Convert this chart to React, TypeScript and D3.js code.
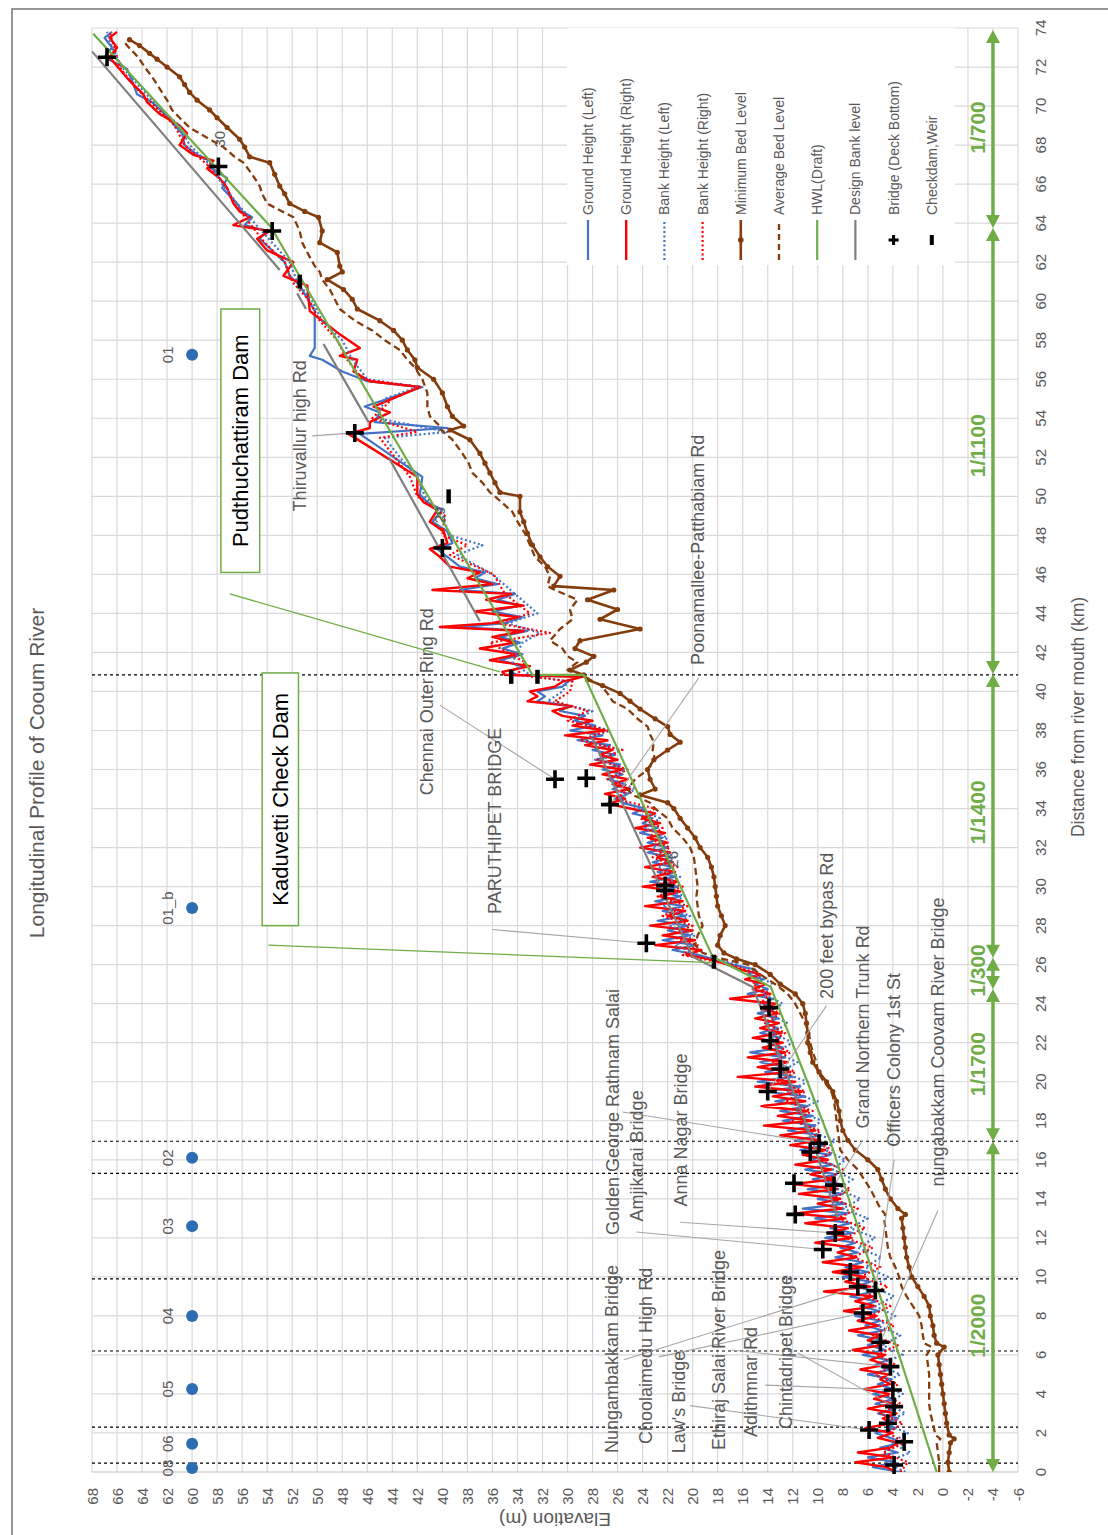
import React from 'react';
import * as d3 from 'd3';

// ---------------- data ----------------
const distTicks = [0,2,4,6,8,10,12,14,16,18,20,22,24,26,28,30,32,34,36,38,40,42,44,46,48,50,52,54,56,58,60,62,64,66,68,70,72,74];
const elevTicks = [-6,-4,-2,0,2,4,6,8,10,12,14,16,18,20,22,24,26,28,30,32,34,36,38,40,42,44,46,48,50,52,54,56,58,60,62,64,66,68];

const groundKm = [0,0.25,0.5,0.75,1,1.25,1.5,1.75,2,2.25,2.5,2.75,3,3.25,3.5,3.75,4,4.25,4.5,4.75,5,5.25,5.5,5.75,6,6.25,6.5,6.75,7,7.25,7.5,7.75,8,8.25,8.5,8.75,9,9.25,9.5,9.75,10,10.25,10.5,10.75,11,11.25,11.5,11.75,12,12.25,12.5,12.75,13,13.25,13.5,13.75,14,14.25,14.5,14.75,15,15.25,15.5,15.75,16,16.25,16.5,16.75,17,17.25,17.5,17.75,18,18.25,18.5,18.75,19,19.25,19.5,19.75,20,20.25,20.5,20.75,21,21.25,21.5,21.75,22,22.25,22.5,22.75,23,23.25,23.5,23.75,24,24.25,24.5,24.75,25,25.25,25.5,25.75,26,26.25,26.5,26.75,27,27.25,27.5,27.75,28,28.25,28.5,28.75,29,29.25,29.5,29.75,30,30.25,30.5,30.75,31,31.25,31.5,31.75,32,32.25,32.5,32.75,33,33.25,33.5,33.75,34,34.25,34.5,34.75,35,35.25,35.5,35.75,36,36.25,36.5,36.75,37,37.25,37.5,37.75,38,38.25,38.5,38.75,39,39.25,39.5,39.75,40,40.25,40.5,40.75,
  40.85,41.0,41.3,41.6,41.9,42.2,42.5,42.8,43.1,43.3,43.5,43.8,44.1,44.4,44.7,45.0,45.2,45.5,45.8,46.1,46.4,46.9,47.3,47.6,48.2,48.7,49.3,49.7,50.1,51.0,53.2,53.5,53.8,54.3,54.6,55.6,55.9,56.4,57.0,57.2,57.6,58.3,59.5,60.8,61.3,62.0,62.6,63.2,63.6,63.9,64.3,64.6,65.0,65.8,66.3,66.8,67.2,67.5,68.0,68.6,69.0,69.6,70.2,70.6,71.3,71.9,72.5,73.0,73.5,73.8];

const groundRight = [3.8,4.5,7.0,3.9,6.8,4.2,3.6,5.2,4.0,6.2,
  4.1,4.8,3.7,6.0,4.0,5.5,4.3,6.3,4.2,5.0,
  4.4,6.6,4.5,5.8,4.6,7.2,4.9,6.0,5.0,7.5,
  5.1,6.8,5.3,7.9,5.4,7.0,5.6,9.5,5.8,7.8,
  6.2,8.8,6.4,9.6,6.9,8.4,7.1,10.2,7.3,9.1,
  7.6,11.0,7.8,11.8,8.0,10.0,8.2,11.5,8.4,12.0,
  8.7,10.6,8.9,11.8,9.2,11.2,9.4,12.2,9.8,13.0,
  10.2,14.3,10.5,13.2,10.8,14.5,11.0,13.6,11.3,15.0,
  11.8,16.4,12.2,14.8,12.4,15.6,12.6,14.4,12.8,15.2,
  12.9,14.6,13.1,15.0,13.2,14.4,13.4,17.0,13.8,15.2,
  14.2,15.8,14.6,16.2,17.2,
  18.4,20.5,19.3,23.0,19.8,22.4,20.0,23.4,20.4,22.0,
  20.6,23.8,20.8,22.6,21.0,24.0,21.2,23.2,21.4,23.8,
  21.6,22.8,21.8,24.2,22.0,23.5,22.2,24.6,22.6,24.0,
  23.0,25.0,26.8,25.4,27.0,25.0,26.4,25.2,27.2,25.6,
  28.2,26.0,27.4,26.4,28.6,26.8,30.2,27.0,29.6,28.0,
  30.4,31.2,29.6,33.2,32.4,33.0,31.0,30.4,28.8,
  35.0,35.2,33.0,36.2,34.0,37.0,34.2,36.0,33.5,40.2,36.0,34.0,37.4,33.5,36.5,34.5,40.8,36.0,38.0,37.0,
  39.4,40.2,41.0,39.6,39.9,41.0,40.4,41.5,42.0,42.0,47.5,45.8,45.8,44.2,45.5,41.8,45.8,47.1,46.8,48.2,
  46.6,48.2,50.6,50.8,52.7,51.9,54.0,54.8,53.8,56.7,55.4,56.2,56.7,57.2,57.8,58.8,58.3,59.9,61.0,60.4,
  61.0,62.6,63.6,63.9,65.0,65.8,66.6,66.0,66.6,66.0];

const groundLeft = [3.4,5.6,3.8,6.0,3.6,5.0,3.3,4.2,5.4,3.8,
  4.6,3.6,5.2,3.8,5.4,3.9,5.6,4.0,5.2,4.1,
  6.0,4.2,5.4,4.4,6.4,4.6,6.0,4.7,6.8,4.8,
  6.2,5.0,7.0,5.1,6.6,5.3,7.4,5.4,7.0,5.8,
  8.0,6.0,7.8,6.4,8.6,6.8,8.2,7.0,9.4,7.2,
  9.0,7.4,10.2,7.6,11.2,7.8,10.0,8.0,10.8,8.2,
  10.4,8.5,11.0,8.8,10.6,9.0,11.4,9.4,11.8,9.8,
  12.4,10.2,12.8,10.4,13.0,10.8,13.4,11.0,14.2,11.4,
  14.8,12.0,14.2,12.4,14.6,12.6,15.4,12.8,14.0,13.0,
  14.6,13.2,14.2,13.2,14.8,13.4,14.4,13.6,15.6,14.0,
  15.0,14.4,15.6,15.0,16.8,
  18.2,19.6,21.6,19.8,22.4,20.2,22.0,20.4,22.8,20.6,
  22.4,20.8,23.0,21.0,22.6,21.2,23.4,21.4,22.8,21.6,
  23.2,21.8,23.6,22.0,23.6,22.4,24.2,22.8,24.0,23.2,
  24.8,23.8,25.4,26.2,25.2,26.4,25.4,26.8,25.6,27.2,
  25.8,27.8,26.2,28.0,26.6,29.2,27.2,29.8,27.8,29.4,
  28.6,30.6,29.8,32.4,31.8,32.4,30.4,30.0,29.0,
  34.0,34.6,33.6,35.4,33.6,35.2,33.8,35.4,33.2,38.6,35.0,33.6,36.0,33.8,35.6,34.2,38.6,35.6,37.4,36.6,
  38.6,39.6,40.4,39.2,39.6,40.8,40.0,41.2,41.8,41.6,46.6,39.6,45.4,45.0,46.2,41.6,46.0,48.0,49.6,50.6,
  50.2,50.2,50.2,51.4,52.2,52.6,53.6,54.6,54.0,55.8,55.2,56.0,56.4,57.6,57.2,58.4,58.6,59.6,60.6,60.8,
  61.4,62.2,63.2,64.4,64.8,65.2,67.0,66.4,67.0,66.4];

const bankKm = [0,0.5,1,1.5,2,2.5,3,3.5,4,4.5,5,5.5,6,6.5,7,7.5,8,8.5,9,9.5,10,10.5,11,11.5,12,12.5,13,13.5,14,14.5,15,15.5,16,16.5,17,17.5,18,18.5,19,19.5,20,20.5,21,21.5,22,22.5,23,23.5,24,24.5,25,25.5,26,26.5,27,27.5,28,28.5,29,29.5,30,30.5,31,31.5,32,32.5,33,33.5,34,34.5,35,35.5,36,36.5,37,37.5,38,38.5,39,39.5,40,40.5,
  40.85,41.5,42.5,43,43.5,44,45,46,47,47.5,48,49,50,51,52,53,53.3,54,55,55.6,56,57,58,59,60,61,62,63,64,65,66,67,68,69,70,71,72,73,73.8];

const bankLeft = [3.0,4.6,2.6,4.2,2.8,4.8,3.0,4.4,3.2,5.0,
  3.4,5.2,3.2,4.8,3.4,5.2,3.8,5.4,3.9,5.6,
  4.4,6.2,4.9,6.8,5.4,7.4,6.0,8.0,6.6,8.4,
  7.2,8.8,7.8,9.4,8.6,11.0,9.6,11.8,10.0,12.4,
  10.8,13.0,11.6,13.4,12.0,13.6,12.4,14.0,12.8,14.4,
  13.6,15.0,16.4,19.6,21.4,19.8,21.8,20.2,22.4,20.6,
  22.6,21.0,22.8,21.4,23.2,22.0,23.8,22.6,24.4,25.8,
  24.6,26.4,25.4,27.2,25.8,28.6,26.6,29.6,28.0,31.6,
  30.4,30.0,
  33.0,34.4,33.6,32.2,34.8,32.4,34.2,36.0,38.8,36.8,39.4,40.0,41.4,42.0,43.4,44.6,39.6,45.2,44.6,42.0,
  46.0,47.2,48.0,49.6,50.4,51.6,52.2,53.6,55.0,56.4,57.6,58.6,60.2,61.0,62.8,64.2,65.6,66.4,66.8];

const bankRight = [3.4,2.8,4.8,3.0,4.4,3.2,5.0,3.4,4.6,3.6,
  5.4,3.8,5.2,3.6,5.6,3.9,5.8,4.2,6.2,4.4,
  6.6,5.0,7.2,5.6,7.8,6.2,8.4,6.8,8.8,7.4,
  9.2,8.0,9.8,8.8,10.6,9.8,12.0,10.4,12.6,11.0,
  13.2,11.8,13.6,12.2,13.8,12.6,14.2,13.0,14.6,13.8,
  15.2,14.6,17.0,20.8,19.6,22.0,20.0,22.4,20.4,22.8,
  20.8,23.0,21.2,23.2,21.8,23.6,22.4,24.2,23.0,26.2,
  25.0,26.8,25.2,27.6,25.6,29.0,26.8,30.0,28.4,31.0,
  29.8,29.6,
  34.0,33.4,36.2,31.4,35.6,33.0,35.0,35.9,39.4,38.0,40.0,39.8,42.0,42.6,43.8,45.0,42.0,45.6,44.0,41.8,
  46.4,47.6,48.4,49.8,50.6,52.0,52.6,54.2,55.4,56.6,57.4,58.8,60.6,61.4,63.0,64.6,65.8,66.2,66.6];

const bedKm = [0,0.5,1.0,1.5,1.7,1.9,2.5,3.0,3.5,4.0,
  4.5,5.0,5.5,6.0,6.4,6.6,7.0,7.5,8.0,8.5,
  9.0,9.5,10.0,10.5,11.0,11.5,12.0,12.5,13.0,13.2,
  13.5,14.0,14.5,15.0,15.5,16.0,16.5,17.0,17.5,18.0,
  18.5,19.0,19.5,20.0,20.5,21.0,21.5,22.0,22.5,23.0,
  23.5,24.0,24.5,25.0,25.5,26.0,26.3,26.6,27.0,27.5,
  28.0,28.5,29.0,29.5,30.0,30.5,31.0,31.5,32.0,32.5,
  33.0,33.5,34.0,34.3,34.7,35.0,35.5,36.0,36.5,37.0,
  37.4,37.8,38.2,38.6,39.1,39.5,39.9,40.3,40.6,40.85,
  41.1,41.5,41.8,42.2,42.6,43.2,43.7,44.2,44.7,45.2,
  45.4,45.9,46.4,46.9,47.5,48.1,48.7,49.2,50.0,50.2,
  50.7,51.2,51.7,52.2,52.9,53.4,53.6,54.1,54.6,55.3,
  56.0,56.6,57.0,57.5,58.0,58.5,59.0,59.6,60.1,60.6,
  61.1,61.5,61.8,62.5,63.0,63.6,64.3,64.6,65.0,65.5,
  65.9,66.5,67.1,67.4,67.9,68.3,68.9,69.4,69.8,70.3,
  70.7,71.1,71.5,72.0,72.4,72.7,73.1,73.4];

const minBed = [-0.5,-0.4,-0.5,-0.6,-0.9,-0.5,-0.3,-0.2,-0.1,0.0,
  0.1,0.2,0.3,0.4,-0.1,0.5,0.7,0.8,1.0,1.1,
  1.5,2.0,2.5,2.7,2.9,3.0,3.1,3.2,3.3,3.0,
  3.6,4.2,4.6,4.9,5.2,6.0,7.0,7.6,8.0,8.2,
  8.3,8.5,8.8,9.3,9.9,10.4,10.6,10.8,10.8,10.9,
  11.0,11.2,11.8,13.0,13.8,15.0,16.5,17.5,18.0,17.8,
  17.4,17.7,18.0,18.1,18.2,18.3,18.5,18.8,19.4,19.8,
  20.4,21.0,21.5,22.0,24.2,23.0,23.4,23.6,23.1,22.0,
  21.0,21.8,22.0,23.0,24.2,25.0,25.8,27.2,28.4,28.7,
  29.8,28.5,27.9,29.4,29.0,24.2,27.4,26.0,28.4,26.3,
  31.1,30.6,31.6,32.2,32.8,33.2,33.5,33.8,33.8,35.4,
  35.8,36.2,36.6,37.0,37.8,39.4,38.3,39.2,39.6,40.0,
  40.7,42.0,42.2,42.8,43.2,43.9,45.0,46.8,47.2,47.9,
  49.2,48.0,48.2,48.4,49.8,49.6,49.9,51.0,52.2,52.6,
  53.0,53.4,53.8,55.4,55.8,56.2,57.2,58.0,58.6,59.6,
  60.2,60.6,61.0,62.0,62.8,63.4,64.2,65.0];

const avgBed = [0.3,0.3,0.4,0.5,0.2,0.6,0.8,1.0,1.1,1.1,
  1.1,1.1,1.2,1.3,0.9,1.5,1.6,1.7,1.9,2.4,
  2.9,3.3,3.5,3.8,4.2,4.4,4.5,4.6,4.7,4.6,
  5.0,5.4,5.8,6.3,6.8,7.6,8.2,8.3,8.4,8.5,
  8.6,8.7,8.9,9.5,10.0,10.1,10.4,10.6,10.7,11.0,
  11.4,11.8,12.4,13.4,14.6,15.6,17.6,19.2,19.8,19.6,
  19.2,19.5,19.6,19.7,19.6,19.7,19.8,19.9,20.2,20.8,
  21.6,22.0,23.0,23.4,24.8,25.2,24.6,23.6,23.0,23.2,
  23.1,23.4,23.6,24.4,25.2,26.4,26.8,27.3,28.2,29.0,
  30.0,29.2,30.0,30.4,31.4,30.6,29.6,29.8,29.2,31.0,
  31.6,31.4,31.8,32.6,33.0,33.4,34.0,34.4,35.8,36.2,
  36.8,37.6,37.9,38.4,39.2,40.1,40.2,41.0,41.2,41.2,
  41.6,42.2,42.8,43.4,44.6,45.6,47.0,48.2,48.6,49.0,
  49.6,49.8,50.2,50.8,51.2,51.4,51.9,52.8,54.0,54.4,
  54.6,55.2,55.9,56.6,57.5,58.6,60.2,61.0,61.6,62.0,
  62.4,62.8,63.2,63.8,64.2,64.6,65.2,65.5];

const hwlKm = [0, 16.95, 24.86, 26.4, 40.85, 40.85, 63.8, 73.7];
const hwlElev = [0.5, 9.0, 13.76, 18.4, 28.7, 32.8, 53.7, 67.9];

const designKm = [13, 16.95, 24.86, 26.4, 37.6, null, 43.6, 52.0, null, 53.8, 57.8, null, 59.6, 60.4, null, 61.6, 72.8];
const designElev = [8.4, 10.4, 15.2, 20.0, 28.0, null, 37.0, 44.3, null, 45.9, 49.5, null, 50.9, 51.6, null, 53.0, 68.0];

const bridgeKm = [0.36,1.55,2.15,2.5,3.35,4.2,5.4,6.65,8.15,9.3,9.5,10.25,11.4,12.25,13.2,14.7,14.8,16.4,16.85,19.5,20.65,22.1,23.8,27.1,29.8,30.05,34.2,35.5,35.55,47.35,53.25,63.6,66.9,72.5];
const bridgeElev = [3.9,3.1,5.9,4.4,3.9,4.0,4.2,5.0,6.4,5.4,6.8,7.4,9.6,8.6,11.8,8.7,11.9,10.6,9.9,14.0,13.0,13.8,13.9,23.7,22.2,22.2,26.6,31.0,28.5,40.0,47.0,53.6,57.9,66.8];

const checkdamKm = [26.15, 40.75, 40.75, 50.0, 61.0];
const checkdamElev = [18.3, 34.5, 32.4, 39.5, 51.4];

const stationNames = ['08', '06', '05', '04', '03', '02', '01_b', '01'];
const stationKm = [0.2, 1.45, 4.25, 8.0, 12.6, 16.1, 28.9, 57.25];
const stationElev = [60, 60, 60, 60, 60, 60, 60, 60];

const sectionKm = [0.45, 2.3, 6.2, 9.9, 15.3, 16.95, 40.85];

const slopeStartKm = [0, 16.95, 24.75, 26.35, 40.9, 63.75];
const slopeEndKm = [16.95, 24.75, 26.35, 40.9, 63.75, 73.9];
const slopeLabels = ['1/2000', '1/1700', '1/300', '1/1400', '1/1100', '1/700'];
const slopeLabelKm = [7.5, 20.9, 25.7, 33.8, 52.6, 68.9];

const roadNames = ['Thiruvallur high Rd', 'Poonamallee-Patthabiam Rd', 'Chennai Outer Ring Rd', 'PARUTHIPET BRIDGE', '200 feet bypas Rd', 'Grand Northern Trunk Rd', 'Officers Colony 1st St', 'nungabakkam Coovam River Bridge', 'Golden George Rathnam Salai', 'Amjikarai Bridge', 'Anna Nagar Bridge', 'Nungambakkam Bridge', 'Choolaimedu High Rd', "Law's Bridge", 'Ethiraj Salai River Bridge', 'Adithmnar Rd', 'Chintadripet Bridge'];
const roadLabelKm = [53.1, 47.26, 39.47, 33.37, 27.99, 22.81, 21.12, 22.04, 18.45, 16.2, 17.53, 5.79, 5.95, 3.59, 6.25, 4.61, 6.15];
const roadLabelElev = [51.36, 19.6, 41.2, 35.76, 9.28, 6.4, 3.92, 0.4, 26.4, 24.48, 20.96, 26.48, 23.76, 21.12, 17.92, 15.36, 12.56];
const leaderFromKm = [53.1, 40.7, 39.3, 27.8, 23.9, 17.0, 16.0, 13.4, 18.45, 12.3, 12.8, 5.75, 5.9, 3.4, 6.25, 4.45, 6.1];
const leaderFromElev = [50.4, 19.5, 40.2, 36.0, 9.3, 6.4, 3.9, 0.4, 25.6, 24.5, 21.0, 25.5, 22.7, 20.2, 16.9, 14.2, 11.6];
const leaderToKm = [53.25, 34.2, 35.5, 27.1, 19.5, 14.7, 9.3, 6.65, 16.85, 11.4, 12.25, 9.5, 8.15, 2.15, 5.4, 4.2, 3.35];
const leaderToElev = [47.0, 26.6, 31.0, 23.7, 14.0, 8.7, 5.4, 5.0, 9.9, 9.6, 8.6, 6.8, 6.4, 5.9, 4.2, 4.0, 3.9];

const pointLabels = ['30', '29', '26'];
const pointLabelKm = [68.3, 49.05, 31.4];
const pointLabelElev = [57.8, 40.2, 21.6];

const damNames = ['Pudthuchattiram Dam', 'Kaduvetti Check Dam'];
const damBoxKm = [[46.1, 59.6], [28.0, 40.95]];
const damBoxElev = [[54.6, 57.7], [51.5, 54.4]];
const damLeaderKm = [[45.0, 41.0], [27.0, 26.1]];
const damLeaderElev = [[57.0, 35.4], [53.9, 18.4]];

const legendNames = ['Ground Height (Left)', 'Ground Height (Right)', 'Bank Height (Left)', 'Bank Height (Right)', 'Minimum Bed Level', 'Average Bed Level', 'HWL(Draft)', 'Design Bank level', 'Bridge (Deck Bottom)', 'Checkdam,Weir'];

// ---------------- component ----------------
const BLUE = '#4472C4';
const RED = '#FF0000';
const BROWN = '#843C0C';
const GREEN = '#70AD47';
const GRAY = '#7F7F7F';
const TXT = '#595959';
const FONT = "'Liberation Sans', Arial, Helvetica, sans-serif";

export default function App() {
  // Chart drawn in its natural (unrotated) frame and rotated -90deg onto the page.
  const x = d3.scaleLinear().domain([0, 74]).range([63, 1507]);
  const y = d3.scaleLinear().domain([-6, 68]).range([1018, 92]);

  const line = d3.line<any>()
    .defined((d: any) => d[0] != null && d[1] != null)
    .x((d: any) => x(d[0]))
    .y((d: any) => y(d[1]));
  const zip = (ks: any[], vs: any[]) => ks.map((k, i) => [k, vs[i]]);

  const plus = (u: number, v: number, s: number) => `M${u - s},${v}H${u + s}M${u},${v - s}V${v + s}`;

  const legendV = legendNames.map((_, i) => 588 + i * 38.2);

  return (
    <svg width={1108} height={1535} style={{ position: 'absolute', left: 0, top: 0, display: 'block' }} xmlns="http://www.w3.org/2000/svg">
      <rect x={0} y={0} width={1108} height={1535} fill="#fff" />
      <rect x={12} y={9} width={1200} height={1600} fill="none" stroke="#767676" strokeWidth={1.5} />
      <g transform="translate(0,1535) rotate(-90)" fontFamily={FONT}>
        <defs>
          <clipPath id="plotClip">
            <rect x={63} y={92} width={1444} height={926} />
          </clipPath>
        </defs>
        {elevTicks.map(e => (
          <line key={'ge' + e} x1={63} x2={1507} y1={y(e)} y2={y(e)} stroke="#D9D9D9" strokeWidth={1.2} />
        ))}
        {distTicks.map(d => (
          <line key={'gd' + d} x1={x(d)} x2={x(d)} y1={92} y2={1018} stroke={d === 0 ? '#BFBFBF' : '#D9D9D9'} strokeWidth={1.2} />
        ))}
        {elevTicks.map(e => (
          <text key={'te' + e} x={47} y={y(e)} textAnchor="end" dominantBaseline="central" fontSize={15} fill={TXT}>{e}</text>
        ))}
        {distTicks.map(d => (
          <text key={'td' + d} x={x(d)} y={1040} textAnchor="middle" dominantBaseline="central" fontSize={15} fill={TXT}>{d}</text>
        ))}
        <text x={818} y={1078} textAnchor="middle" dominantBaseline="central" fontSize={17.5} fill={TXT}>Distance from river mouth (km)</text>
        <text transform={`translate(16,${y(31)}) rotate(-90)`} textAnchor="middle" dominantBaseline="central" fontSize={19} fill={TXT}>Elavation (m)</text>
        <text x={762} y={36} textAnchor="middle" dominantBaseline="central" fontSize={21} fill={TXT}>Longitudinal Profile of Cooum River</text>

        {sectionKm.map((k, i) => (
          <line key={'sec' + i} x1={x(k)} x2={x(k)} y1={92} y2={1018} stroke="#000" strokeWidth={1.2} strokeDasharray="3,3" />
        ))}

        <g clipPath="url(#plotClip)" fill="none" strokeLinejoin="round">
          <path d={line(zip(groundKm, groundLeft)) || ''} stroke={BLUE} strokeWidth={2.2} />
          <path d={line(zip(groundKm, groundRight)) || ''} stroke={RED} strokeWidth={2.4} />
          <path d={line(zip(bankKm, bankLeft)) || ''} stroke={BLUE} strokeWidth={2.2} strokeDasharray="2,2.5" />
          <path d={line(zip(bankKm, bankRight)) || ''} stroke={RED} strokeWidth={2.2} strokeDasharray="2,2.5" />
          <path d={line(zip(bedKm, minBed)) || ''} stroke={BROWN} strokeWidth={2.6} />
          {bedKm.map((k, i) => (
            <circle key={'mb' + i} cx={x(k)} cy={y(minBed[i])} r={2.6} fill={BROWN} />
          ))}
          <path d={line(zip(bedKm, avgBed)) || ''} stroke={BROWN} strokeWidth={2.3} strokeDasharray="7,4" />
          <path d={line(zip(hwlKm, hwlElev)) || ''} stroke={GREEN} strokeWidth={2.2} />
          <path d={line(zip(designKm, designElev)) || ''} stroke={GRAY} strokeWidth={2.2} />
        </g>

        {roadNames.map((n, i) => (
          <line key={'ld' + i} x1={x(leaderFromKm[i])} y1={y(leaderFromElev[i])} x2={x(leaderToKm[i])} y2={y(leaderToElev[i])} stroke="#A6A6A6" strokeWidth={1.1} />
        ))}

        {bridgeKm.map((k, i) => (
          <path key={'br' + i} d={plus(x(k), y(bridgeElev[i]), 9)} stroke="#000" strokeWidth={3.6} fill="none" />
        ))}
        {checkdamKm.map((k, i) => (
          <line key={'cd' + i} x1={x(k) - 7} x2={x(k) + 7} y1={y(checkdamElev[i])} y2={y(checkdamElev[i])} stroke="#000" strokeWidth={4.5} />
        ))}

        {stationKm.map((k, i) => (
          <g key={'st' + i}>
            <circle cx={x(k)} cy={y(stationElev[i])} r={6} fill="#2E6DB4" />
            <text x={x(k)} y={167} textAnchor="middle" dominantBaseline="central" fontSize={15} fill={TXT}>{stationNames[i]}</text>
          </g>
        ))}

        {pointLabels.map((t, i) => (
          <text key={'pl' + i} x={x(pointLabelKm[i])} y={y(pointLabelElev[i])} textAnchor="middle" dominantBaseline="central" fontSize={15} fill={TXT}>{t}</text>
        ))}

        {roadNames.map((n, i) => (
          <text key={'rn' + i} x={x(roadLabelKm[i])} y={y(roadLabelElev[i])} textAnchor="middle" dominantBaseline="central" fontSize={18} fill={TXT}>{n}</text>
        ))}

        {damNames.map((n, i) => (
          <g key={'dam' + i}>
            <line x1={x(damLeaderKm[i][0])} y1={y(damLeaderElev[i][0])} x2={x(damLeaderKm[i][1])} y2={y(damLeaderElev[i][1])} stroke={GREEN} strokeWidth={1.3} />
            <rect x={x(damBoxKm[i][0])} y={y(damBoxElev[i][1])} width={x(damBoxKm[i][1]) - x(damBoxKm[i][0])} height={y(damBoxElev[i][0]) - y(damBoxElev[i][1])} fill="#fff" stroke={GREEN} strokeWidth={1.5} />
            <text x={(x(damBoxKm[i][0]) + x(damBoxKm[i][1])) / 2} y={(y(damBoxElev[i][0]) + y(damBoxElev[i][1])) / 2} textAnchor="middle" dominantBaseline="central" fontSize={22} fill="#000">{n}</text>
          </g>
        ))}

        {slopeStartKm.map((s, i) => {
          const a = x(s), b = x(slopeEndKm[i]), v = y(-4);
          return (
            <g key={'sl' + i}>
              <line x1={a + 8} x2={b - 8} y1={v} y2={v} stroke={GREEN} strokeWidth={3.5} />
              <polygon points={`${a},${v} ${a + 13},${v - 7} ${a + 13},${v + 7}`} fill={GREEN} />
              <polygon points={`${b},${v} ${b - 13},${v - 7} ${b - 13},${v + 7}`} fill={GREEN} />
            </g>
          );
        })}
        {slopeLabels.map((t, i) => (
          <text key={'slt' + i} x={x(slopeLabelKm[i])} y={977} textAnchor="middle" dominantBaseline="central" fontSize={21} fontWeight="bold" fill={GREEN}>{t}</text>
        ))}

        <rect x={1270} y={567} width={237} height={388} fill="#fff" />
        {legendNames.map((n, i) => {
          const v = legendV[i];
          let sym: any = null;
          if (i === 0) sym = <line x1={1275} x2={1315} y1={v} y2={v} stroke={BLUE} strokeWidth={2.2} />;
          if (i === 1) sym = <line x1={1275} x2={1315} y1={v} y2={v} stroke={RED} strokeWidth={2.4} />;
          if (i === 2) sym = <line x1={1275} x2={1315} y1={v} y2={v} stroke={BLUE} strokeWidth={2.2} strokeDasharray="2,2.5" />;
          if (i === 3) sym = <line x1={1275} x2={1315} y1={v} y2={v} stroke={RED} strokeWidth={2.2} strokeDasharray="2,2.5" />;
          if (i === 4) sym = <g><line x1={1275} x2={1315} y1={v} y2={v} stroke={BROWN} strokeWidth={2.6} /><circle cx={1295} cy={v} r={2.8} fill={BROWN} /></g>;
          if (i === 5) sym = <line x1={1275} x2={1315} y1={v} y2={v} stroke={BROWN} strokeWidth={2.3} strokeDasharray="6,4" />;
          if (i === 6) sym = <line x1={1275} x2={1315} y1={v} y2={v} stroke={GREEN} strokeWidth={2.2} />;
          if (i === 7) sym = <line x1={1275} x2={1315} y1={v} y2={v} stroke={GRAY} strokeWidth={2.2} />;
          if (i === 8) sym = <path d={plus(1295, v, 5)} stroke="#000" strokeWidth={3} fill="none" />;
          if (i === 9) sym = <line x1={1290} x2={1300} y1={v} y2={v} stroke="#000" strokeWidth={4} />;
          return (
            <g key={'lg' + i}>
              {sym}
              <text x={1320} y={v} dominantBaseline="central" fontSize={14} fill={TXT}>{n}</text>
            </g>
          );
        })}
      </g>
    </svg>
  );
}
